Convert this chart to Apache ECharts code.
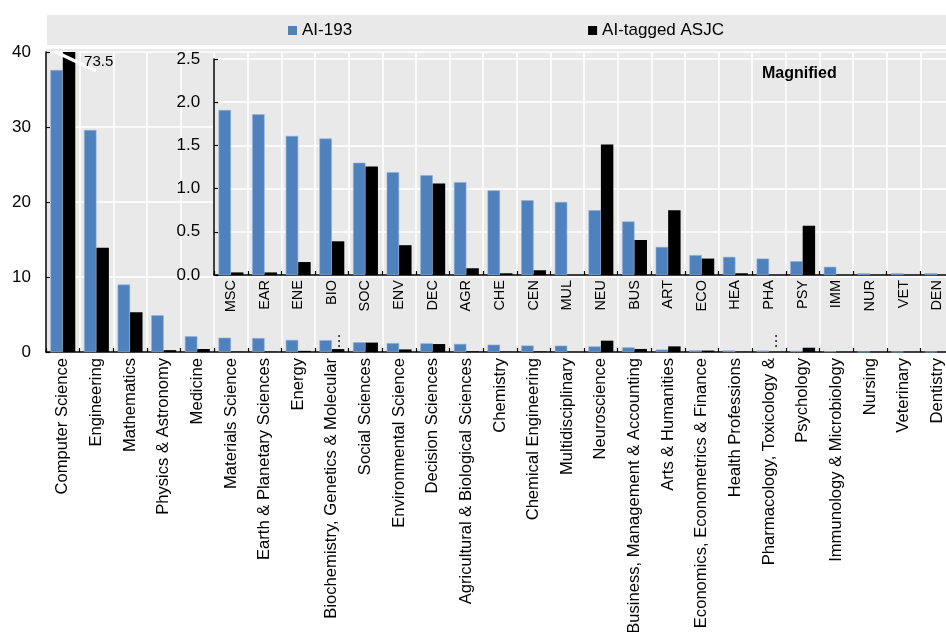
<!DOCTYPE html>
<html>
<head>
<meta charset="utf-8">
<script src="https://cdn.jsdelivr.net/npm/echarts@6/dist/echarts.min.js"></script>
<style>
  html, body { margin: 0; padding: 0; background: #fff; }
  #chart { width: 946px; height: 632px; }
</style>
</head>
<body>
<div id="chart"></div>
<script>
// Subject areas (ASJC) in chart order
const subjectAreas = [
  'Computer Science', 'Engineering', 'Mathematics', 'Physics & Astronomy', 'Medicine',
  'Materials Science', 'Earth & Planetary Sciences', 'Energy',
  'Biochemistry, Genetics & Molecular Biology', 'Social Sciences', 'Environmental Science',
  'Decision Sciences', 'Agricultural & Biological Sciences', 'Chemistry', 'Chemical Engineering',
  'Multidisciplinary', 'Neuroscience', 'Business, Management & Accounting', 'Arts & Humanities',
  'Economics, Econometrics & Finance', 'Health Professions',
  'Pharmacology, Toxicology & Pharmaceutics', 'Psychology', 'Immunology & Microbiology',
  'Nursing', 'Veterinary', 'Dentistry'
];
// Short codes for the magnified panel (from Materials Science onwards)
const subjectCodes = [
  'MSC', 'EAR', 'ENE', 'BIO', 'SOC', 'ENV', 'DEC', 'AGR', 'CHE', 'CEN', 'MUL',
  'NEU', 'BUS', 'ART', 'ECO', 'HEA', 'PHA', 'PSY', 'IMM', 'NUR', 'VET', 'DEN'
];
const magnifiedFrom = 5;

// Share of publications, %
const ai193 = [
  37.6, 29.6, 9.0, 4.9, 2.1,
  1.91, 1.86, 1.61, 1.58, 1.30, 1.19, 1.155, 1.075, 0.98, 0.865, 0.845,
  0.75, 0.62, 0.325, 0.23, 0.21, 0.19, 0.16, 0.095, 0.02, 0.02, 0.02
];
const aiTagged = [
  73.5, 13.9, 5.3, 0.25, 0.4,
  0.03, 0.03, 0.15, 0.39, 1.255, 0.345, 1.06, 0.078, 0.02, 0.055, 0,
  1.51, 0.405, 0.75, 0.19, 0.02, 0, 0.57, 0, 0, 0, 0
];

// Axis ticks
const mainTicks = { min: 0, max: 40, interval: 10 };
const magnifiedTicks = { min: 0, max: 2.5, interval: 0.5 };

const FONT = '"Liberation Sans", Arial, sans-serif';
const BLUE = '#4f81bd';
const PANEL = '#e9e9e9';
const MAX_LABEL_CHARS = 36;

// Category band width; the plot runs a little past the right edge of the page
const BAND = 33.63;
const MAIN_LEFT = 46;

// Long names lose their last word; an ellipsis is drawn after them
function shortName(name) {
  if (name.length <= MAX_LABEL_CHARS) return name;
  return name.slice(0, name.lastIndexOf(' '));
}

const chart = echarts.init(document.getElementById('chart'), null, { renderer: 'canvas' });

const axisLineStyle = { color: '#000', width: 1.5 };
const gridLineStyle = { color: '#fff', width: 1.5 };
const tickStyle = { show: true, inside: true, length: 4, lineStyle: { color: '#000', width: 1.2 } };

chart.setOption({
  animation: false,
  backgroundColor: '#fff',
  textStyle: { fontFamily: FONT, color: '#000' },
  title: {
    text: 'Magnified', left: 762, top: 66, padding: 0,
    textStyle: { fontFamily: FONT, fontSize: 16, fontWeight: 'bold', color: '#000' }
  },
  legend: {
    data: ['AI-193', 'AI-tagged ASJC'],
    left: 288, top: 21, padding: 0,
    itemWidth: 9, itemHeight: 9, itemGap: 236, icon: 'rect',
    itemStyle: { borderWidth: 0 },
    textStyle: { fontFamily: FONT, fontSize: 17, color: '#000', lineHeight: 19 },
    z: 10
  },
  grid: [
    {
      left: MAIN_LEFT, top: 52, width: BAND * subjectAreas.length, bottom: 280,
      outerBoundsMode: 'none', containLabel: false,
      show: true, backgroundColor: PANEL, borderWidth: 0, z: 0
    },
    {
      left: MAIN_LEFT + BAND * magnifiedFrom, top: 59, width: BAND * subjectCodes.length, bottom: 357,
      outerBoundsMode: 'none', containLabel: false,
      show: true, backgroundColor: PANEL, borderWidth: 0, z: 3
    }
  ],
  xAxis: [
    {
      type: 'category', gridIndex: 0, data: subjectAreas, z: 1,
      axisLine: { lineStyle: axisLineStyle },
      axisTick: tickStyle,
      axisLabel: {
        interval: 0, rotate: 90, fontSize: 16.6, margin: 6, color: '#000', fontFamily: FONT,
        formatter: shortName
      },
      splitLine: { show: true, interval: 0, lineStyle: gridLineStyle }
    },
    {
      type: 'category', gridIndex: 1, data: subjectCodes, z: 4,
      axisLine: { lineStyle: axisLineStyle },
      axisTick: tickStyle,
      axisLabel: { interval: 0, rotate: 90, fontSize: 14.5, margin: 5, color: '#000', fontFamily: FONT },
      splitLine: { show: true, interval: 0, lineStyle: gridLineStyle }
    }
  ],
  yAxis: [
    {
      type: 'value', gridIndex: 0, z: 1,
      min: mainTicks.min, max: mainTicks.max, interval: mainTicks.interval,
      axisLine: { show: true, lineStyle: axisLineStyle },
      axisTick: tickStyle,
      axisLabel: { fontSize: 17, margin: 15, color: '#000', fontFamily: FONT },
      splitLine: { show: true, lineStyle: gridLineStyle }
    },
    {
      type: 'value', gridIndex: 1, z: 4,
      min: magnifiedTicks.min, max: magnifiedTicks.max, interval: magnifiedTicks.interval,
      axisLine: { show: true, lineStyle: axisLineStyle },
      axisTick: tickStyle,
      axisLabel: { fontSize: 17, margin: 14, color: '#000', fontFamily: FONT, formatter: v => v.toFixed(1) },
      splitLine: { show: true, lineStyle: gridLineStyle }
    }
  ],
  series: [
    {
      name: 'AI-193', type: 'bar', xAxisIndex: 0, yAxisIndex: 0, z: 2,
      data: ai193, barGap: '0%', barCategoryGap: '26%',
      itemStyle: { color: BLUE, borderColor: '#8fb0da', borderWidth: 0.6 }
    },
    {
      name: 'AI-tagged ASJC', type: 'bar', xAxisIndex: 0, yAxisIndex: 0, z: 2,
      data: aiTagged, barGap: '0%', barCategoryGap: '26%',
      itemStyle: { color: '#000' }
    },
    {
      name: 'AI-193', type: 'bar', xAxisIndex: 1, yAxisIndex: 1, z: 5,
      data: ai193.slice(magnifiedFrom), barGap: '0%', barCategoryGap: '26%',
      itemStyle: { color: BLUE, borderColor: '#8fb0da', borderWidth: 0.6 }
    },
    {
      name: 'AI-tagged ASJC', type: 'bar', xAxisIndex: 1, yAxisIndex: 1, z: 5,
      data: aiTagged.slice(magnifiedFrom), barGap: '0%', barCategoryGap: '26%',
      itemStyle: { color: '#000' }
    }
  ]
});

// Decorations placed from the axes: legend band, axis-break mark, value of the
// clipped bar and the ellipses of shortened labels
const [csCenter, topY] = chart.convertToPixel({ gridIndex: 0 }, [subjectAreas[0], mainTicks.max]);
const [, zeroY] = chart.convertToPixel({ gridIndex: 0 }, [subjectAreas[0], 0]);
const blackCenter = csCenter + BAND * 0.74 / 4;

const graphics = [
  { type: 'rect', z: -1, silent: true, shape: { x: 47, y: 15, width: 946 - 47, height: 30 }, style: { fill: PANEL } },
  { type: 'rect', z: -1, silent: true, shape: { x: MAIN_LEFT, y: topY - 3, width: 946 - MAIN_LEFT, height: 3 }, style: { fill: PANEL } },
  {
    type: 'line', z: 20, silent: true,
    shape: { x1: blackCenter - 13, y1: topY, x2: blackCenter + 27, y2: topY + 19 },
    style: { stroke: '#fff', lineWidth: 3.5 }
  },
  {
    type: 'text', z: 20, silent: true, x: blackCenter + 15, y: topY + 10,
    style: { text: String(aiTagged[0]), font: '15px ' + FONT, fill: '#000', textVerticalAlign: 'middle', textAlign: 'left' }
  }
];
subjectAreas.forEach(name => {
  if (shortName(name) !== name) {
    const [cx] = chart.convertToPixel({ gridIndex: 0 }, [name, 0]);
    graphics.push({
      type: 'text', z: 20, silent: true, x: cx + 4, y: zeroY - 3, rotation: Math.PI / 2,
      style: { text: '…', font: '16px ' + FONT, fill: '#000', textAlign: 'left', textVerticalAlign: 'middle' }
    });
  }
});
chart.setOption({ graphic: graphics });
</script>
</body>
</html>
